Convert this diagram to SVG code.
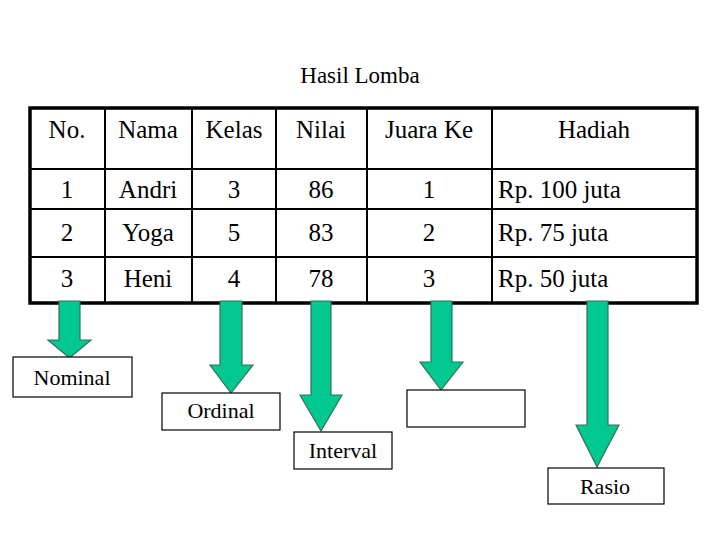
<svg xmlns="http://www.w3.org/2000/svg" width="720" height="540" viewBox="0 0 720 540">
<style>
text{font-family:"Liberation Serif","Times New Roman",serif;fill:#000}
.t{font-size:25px;text-anchor:middle}
.l{font-size:25px}
.g{stroke:#000;stroke-width:2;fill:none}
.o{stroke:#000;stroke-width:3.5;fill:none}
.b{fill:#fff;stroke:#000;stroke-width:1.2}
.bt{font-size:22px;text-anchor:middle}
.a{fill:#00C890;stroke:#3a6e58;stroke-width:1.2}
</style>
<rect width="720" height="540" fill="#fff"/>
<text x="360" y="83" style="font-size:23px" text-anchor="middle">Hasil Lomba</text>
<g id="table">
<path class="g" d="M105 108V303M192 108V303M276 108V303M367 108V303M492 108V303M30 169H697M30 209H697M30 257H697"/>
<rect class="o" x="30" y="108" width="667" height="195"/>
<text class="t" x="67" y="138">No.</text><text class="t" x="148" y="138">Nama</text><text class="t" x="234" y="138">Kelas</text><text class="t" x="321" y="138">Nilai</text><text class="t" x="429" y="138">Juara Ke</text><text class="t" x="594" y="138">Hadiah</text>
<text class="t" x="67" y="198">1</text><text class="t" x="148" y="198">Andri</text><text class="t" x="234" y="198">3</text><text class="t" x="321" y="198">86</text><text class="t" x="429" y="198">1</text><text class="l" x="498" y="198">Rp. 100 juta</text>
<text class="t" x="67" y="241">2</text><text class="t" x="148" y="241">Yoga</text><text class="t" x="234" y="241">5</text><text class="t" x="321" y="241">83</text><text class="t" x="429" y="241">2</text><text class="l" x="498" y="241">Rp. 75 juta</text>
<text class="t" x="67" y="287">3</text><text class="t" x="148" y="287">Heni</text><text class="t" x="234" y="287">4</text><text class="t" x="321" y="287">78</text><text class="t" x="429" y="287">3</text><text class="l" x="498" y="287">Rp. 50 juta</text>
</g>
<g id="connectors">
<path class="a" d="M59 301H80V340H91L69.5 358L48 340H59Z"/>
<path class="a" d="M220 301H242V365H253L231 393L210 365H220Z"/>
<path class="a" d="M311 301H331V395H342L321 431L300 395H311Z"/>
<path class="a" d="M431 301H452V362H463L441 390L420 362H431Z"/>
<path class="a" d="M587 301H608V425H619L597 467L576 425H587Z"/>
</g>
<g id="nominal"><rect class="b" x="13" y="357" width="119" height="40"/><text class="bt" x="72" y="385">Nominal</text></g>
<g id="ordinal"><rect class="b" x="162" y="393" width="118" height="37"/><text class="bt" x="221" y="418">Ordinal</text></g>
<g id="interval"><rect class="b" x="294" y="432" width="98" height="37"/><text class="bt" x="343" y="458">Interval</text></g>
<g id="empty"><rect class="b" x="407" y="390" width="118" height="37"/></g>
<g id="rasio"><rect class="b" x="548" y="468" width="116" height="36"/><text class="bt" x="605" y="494">Rasio</text></g>
</svg>
